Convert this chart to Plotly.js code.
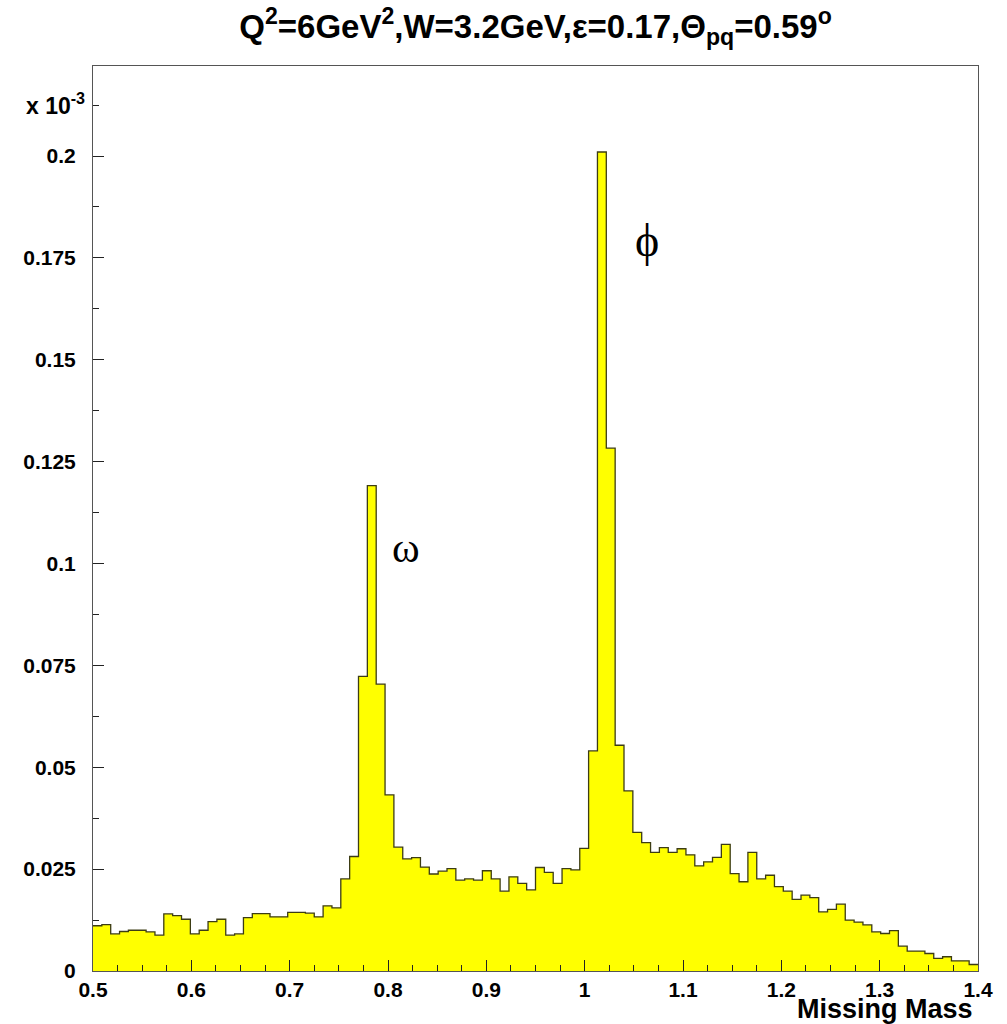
<!DOCTYPE html>
<html>
<head>
<meta charset="utf-8">
<script src="https://cdn.plot.ly/plotly-3.0.1.min.js"></script>
<style>
  html, body { margin: 0; padding: 0; background: #ffffff; }
  #plot { width: 1007px; height: 1024px; }
</style>
</head>
<body>
<div id="plot"></div>
<script>
// Missing-mass histogram: 100 bins from 0.5 to 1.4 (contents in units of 10^-3)
const massLow = 0.5;
const massHigh = 1.4;
const binCount = 100;

const binContents = [
  0.0111, 0.0114, 0.0091, 0.0097, 0.0100, 0.0100, 0.0096, 0.0088, 0.0140, 0.0136,
  0.0127, 0.0091, 0.0100, 0.0121, 0.0127, 0.0088, 0.0091, 0.0131, 0.0141, 0.0141,
  0.0133, 0.0133, 0.0144, 0.0144, 0.0142, 0.0133, 0.0160, 0.0155, 0.0226, 0.0281,
  0.0723, 0.1191, 0.0704, 0.0432, 0.0304, 0.0275, 0.0278, 0.0255, 0.0238, 0.0245,
  0.0251, 0.0223, 0.0226, 0.0223, 0.0246, 0.0226, 0.0196, 0.0231, 0.0215, 0.0199,
  0.0254, 0.0242, 0.0215, 0.0251, 0.0248, 0.0301, 0.0540, 0.2010, 0.1283, 0.0554,
  0.0442, 0.0340, 0.0315, 0.0291, 0.0303, 0.0291, 0.0300, 0.0285, 0.0258, 0.0268,
  0.0279, 0.0311, 0.0239, 0.0219, 0.0291, 0.0226, 0.0235, 0.0207, 0.0196, 0.0176,
  0.0186, 0.0180, 0.0145, 0.0151, 0.0164, 0.0125, 0.0120, 0.0113, 0.0096, 0.0092,
  0.0099, 0.0061, 0.0049, 0.0049, 0.0043, 0.0031, 0.0035, 0.0025, 0.0025, 0.0016
];

const xTickVals = [0.5, 0.6, 0.7, 0.8, 0.9, 1.0, 1.1, 1.2, 1.3, 1.4];
const xTickText = ["0.5", "0.6", "0.7", "0.8", "0.9", "1", "1.1", "1.2", "1.3", "1.4"];
const yTickVals = [0, 0.025, 0.05, 0.075, 0.1, 0.125, 0.15, 0.175, 0.2];
const yTickText = ["0", "0.025", "0.05", "0.075", "0.1", "0.125", "0.15", "0.175", "0.2"];

// Step outline: one point per lower bin edge, plus the upper edge of the last bin
const binWidth = (massHigh - massLow) / binCount;
const stepX = [];
const stepY = [];
for (let i = 0; i < binCount; i++) {
  stepX.push(massLow + i * binWidth);
  stepY.push(binContents[i]);
}
stepX.push(massHigh);
stepY.push(binContents[binCount - 1]);

const boldFont = "'Liberation Sans', Arial, Helvetica, sans-serif";
const serifFont = "'Liberation Serif', 'Times New Roman', serif";

const trace = {
  type: 'scatter',
  mode: 'lines',
  x: stepX,
  y: stepY,
  line: { shape: 'hv', color: '#3c3c14', width: 1.3 },
  fill: 'tozeroy',
  fillcolor: '#ffff00',
  hoverinfo: 'x+y',
  showlegend: false
};

const layout = {
  width: 1007,
  height: 1024,
  margin: { l: 93, r: 29, t: 66, b: 53 },
  paper_bgcolor: '#ffffff',
  plot_bgcolor: '#ffffff',
  showlegend: false,
  title: {
    text: '<b>Q<sup>2</sup>=6GeV<sup>2</sup>,W=3.2GeV,ε=0.17,Θ<sub>pq</sub>=0.59<sup>o</sup></b>',
    font: { family: boldFont, size: 33, color: '#000000' },
    xref: 'paper',
    x: 0.5,
    xanchor: 'center',
    yref: 'container',
    y: 0.974,
    yanchor: 'middle'
  },
  xaxis: {
    range: [massLow, massHigh],
    tickmode: 'array',
    tickvals: xTickVals,
    ticktext: xTickText,
    ticks: 'inside',
    ticklen: 11,
    tickwidth: 1,
    tickcolor: '#222222',
    minor: { tickmode: 'linear', tick0: 0.5, dtick: 0.025, ticks: 'inside', ticklen: 6, tickcolor: '#222222', showgrid: false },
    showgrid: false,
    zeroline: false,
    showline: true,
    mirror: true,
    linecolor: '#555555',
    linewidth: 1,
    tickfont: { family: boldFont, size: 21, color: '#000000', weight: 'bold' },
    ticklabelstandoff: 0
  },
  yaxis: {
    range: [0, 0.2221],
    tickmode: 'array',
    tickvals: yTickVals,
    ticktext: yTickText,
    ticks: 'inside',
    ticklen: 11,
    tickwidth: 1,
    tickcolor: '#222222',
    minor: { tickmode: 'linear', tick0: 0, dtick: 0.0125, ticks: 'inside', ticklen: 6, tickcolor: '#222222', showgrid: false },
    showgrid: false,
    zeroline: false,
    showline: true,
    mirror: true,
    linecolor: '#555555',
    linewidth: 1,
    tickfont: { family: boldFont, size: 21, color: '#000000', weight: 'bold' },
    ticklabelstandoff: 12
  },
  annotations: [
    {
      text: '<b>x 10<sup>-3</sup></b>',
      xref: 'paper', yref: 'paper',
      x: -0.078, y: 0.958,
      xanchor: 'left', yanchor: 'middle',
      showarrow: false,
      font: { family: boldFont, size: 23, color: '#000000' }
    },
    {
      text: '<b>Missing Mass</b>',
      xref: 'paper', yref: 'paper',
      x: 0.9966, y: -0.042,
      xanchor: 'right', yanchor: 'middle',
      showarrow: false,
      font: { family: boldFont, size: 27, color: '#000000' }
    },
    {
      text: 'ω',
      xref: 'x', yref: 'y',
      x: 0.818, y: 0.1038,
      xanchor: 'center', yanchor: 'middle',
      showarrow: false,
      font: { family: serifFont, size: 42, color: '#000000' }
    },
    {
      text: 'ϕ',
      xref: 'x', yref: 'y',
      x: 1.0634, y: 0.1793,
      xanchor: 'center', yanchor: 'middle',
      showarrow: false,
      font: { family: serifFont, size: 46, color: '#000000' }
    }
  ]
};

Plotly.newPlot('plot', [trace], layout, { displayModeBar: false, staticPlot: true });
</script>
</body>
</html>
